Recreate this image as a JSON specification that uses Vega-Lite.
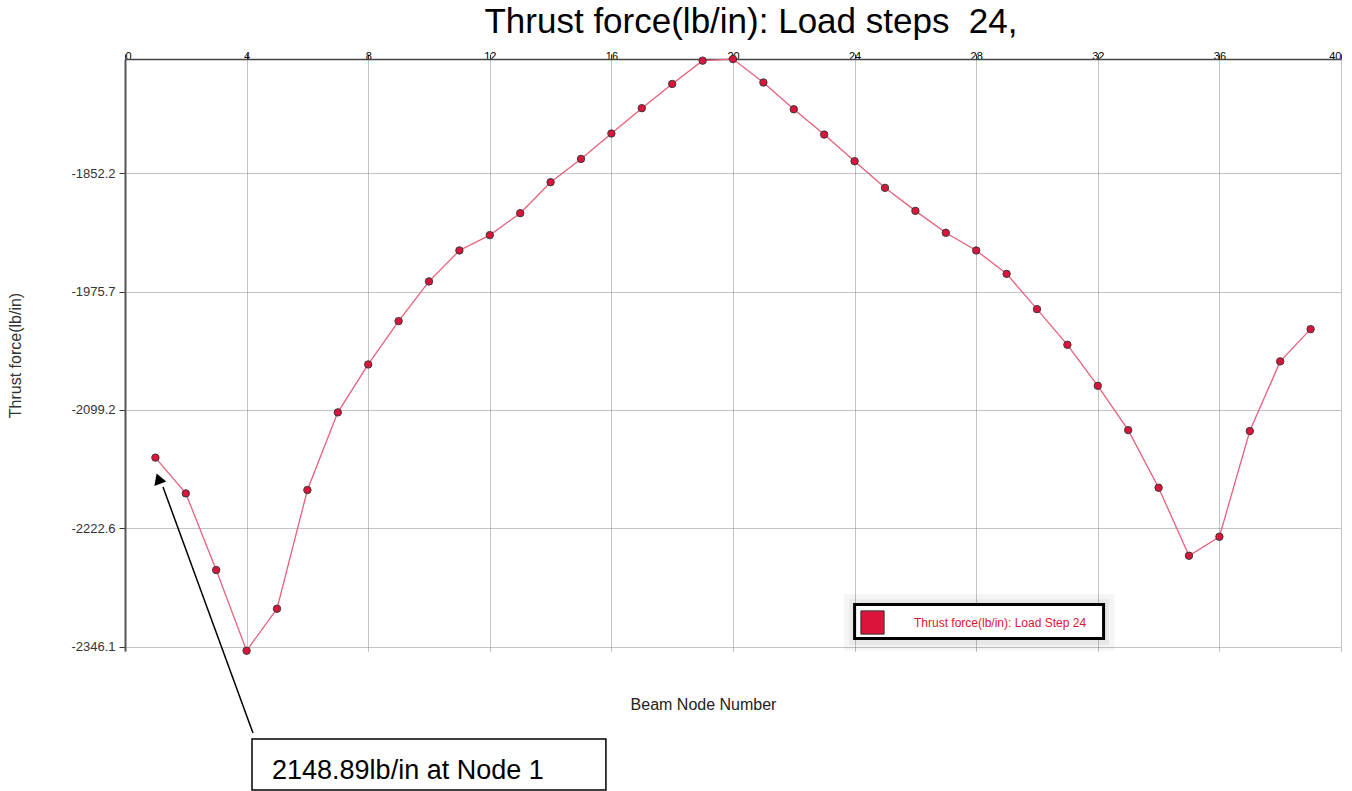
{
  "$schema": "https://vega.github.io/schema/vega-lite/v6.json",
  "width": 1216,
  "height": 592,
  "autosize": {"type": "none"},
  "padding": {"left": 125, "top": 59, "right": 11, "bottom": 140},
  "background": "#ffffff",
  "config": {
    "view": {"stroke": null},
    "font": "Liberation Sans",
    "axis": {"labelFont": "Liberation Sans", "titleFont": "Liberation Sans"}
  },
  "title": {
    "text": "Thrust force(lb/in): Load steps\u00a0 24,",
    "fontSize": 35,
    "font": "Liberation Sans",
    "fontWeight": "normal",
    "color": "#000000",
    "anchor": "middle",
    "dx": 18,
    "offset": 10
  },
  "datasets": {
    "thrust": [
      {"node": 1, "value": -2148.89},
      {"node": 2, "value": -2186.2},
      {"node": 3, "value": -2266.1},
      {"node": 4, "value": -2350.3},
      {"node": 5, "value": -2306.5},
      {"node": 6, "value": -2182.7},
      {"node": 7, "value": -2101.7},
      {"node": 8, "value": -2051.7},
      {"node": 9, "value": -2006.5},
      {"node": 10, "value": -1965.1},
      {"node": 11, "value": -1932.8},
      {"node": 12, "value": -1916.8},
      {"node": 13, "value": -1893.9},
      {"node": 14, "value": -1861.6},
      {"node": 15, "value": -1837.3},
      {"node": 16, "value": -1810.8},
      {"node": 17, "value": -1784.4},
      {"node": 18, "value": -1759.1},
      {"node": 19, "value": -1734.8},
      {"node": 20, "value": -1733.2},
      {"node": 21, "value": -1757.6},
      {"node": 22, "value": -1785.5},
      {"node": 23, "value": -1811.9},
      {"node": 24, "value": -1839.7},
      {"node": 25, "value": -1867.5},
      {"node": 26, "value": -1891.5},
      {"node": 27, "value": -1914.4},
      {"node": 28, "value": -1932.8},
      {"node": 29, "value": -1957.2},
      {"node": 30, "value": -1994.0},
      {"node": 31, "value": -2031.2},
      {"node": 32, "value": -2074.0},
      {"node": 33, "value": -2120.2},
      {"node": 34, "value": -2180.3},
      {"node": 35, "value": -2251.2},
      {"node": 36, "value": -2231.4},
      {"node": 37, "value": -2121.2},
      {"node": 38, "value": -2048.5},
      {"node": 39, "value": -2014.9}
    ],
    "one": [{"label": "2148.89lb/in at Node 1"}]
  },
  "resolve": {"axis": {"x": "independent", "y": "independent"}},
  "layer": [
    {
      "data": {"name": "thrust"},
      "mark": {"type": "line", "color": "#e8607a", "strokeWidth": 1.3},
      "encoding": {
        "x": {
          "field": "node", "type": "quantitative",
          "scale": {"domain": [0, 40], "nice": false, "zero": false},
          "axis": {
            "orient": "top", "title": null,
            "values": [0, 4, 8, 12, 16, 20, 24, 28, 32, 36, 40],
            "grid": true, "gridDash": [1, 1], "gridColor": "#888", "gridWidth": 1,
            "domainColor": "#444", "domainWidth": 1.5,
            "tickColor": "#333", "tickSize": 5,
            "labelPadding": -7, "labelFontSize": 11, "labelColor": "#000"
          }
        },
        "y": {
          "field": "value", "type": "quantitative",
          "scale": {"domain": [-2350.6, -1733.1], "nice": false, "zero": false},
          "axis": {
            "orient": "left",
            "values": [-2346.1, -2222.6, -2099.2, -1975.7, -1852.2],
            "labelExpr": "'-' + format(abs(datum.value), '.1f')",
            "grid": true, "gridDash": [1, 1], "gridColor": "#888", "gridWidth": 1,
            "domainColor": "#555", "domainWidth": 2,
            "tickColor": "#333", "tickSize": 6,
            "labelPadding": 4, "labelFontSize": 13, "labelColor": "#333",
            "title": "Thrust force(lb/in)",
            "titleFontSize": 16, "titleFontWeight": "normal", "titleColor": "#333",
            "titleX": -110, "titleY": 296, "titleAngle": -90,
            "titleAlign": "center", "titleBaseline": "middle"
          }
        }
      }
    },
    {
      "data": {"name": "thrust"},
      "mark": {"type": "point", "filled": true, "size": 55, "stroke": "#3a3a3a", "strokeWidth": 1, "opacity": 1},
      "encoding": {
        "x": {
          "field": "node", "type": "quantitative",
          "axis": {
            "orient": "bottom", "title": "Beam Node Number",
            "labels": false, "ticks": false, "domain": false, "grid": false,
            "titleFontSize": 16, "titleFontWeight": "normal", "titleColor": "#222",
            "titleX": 578, "titleY": 53, "titleAlign": "center", "titleBaseline": "middle"
          }
        },
        "y": {"field": "value", "type": "quantitative", "axis": null},
        "color": {
          "datum": "Thrust force(lb/in): Load Step 24",
          "scale": {"range": ["#dc143c"]},
          "legend": {
            "orient": "none", "legendX": 728, "legendY": 544, "title": null,
            "padding": 7,
            "symbolType": "square", "symbolSize": 540,
            "symbolStrokeColor": "#333", "symbolStrokeWidth": 1, "symbolOpacity": 1,
            "labelColor": "#dc143c", "labelFontSize": 12, "labelOffset": 29,
            "labelLimit": 400,
            "labelFont": "Liberation Sans"
          }
        }
      }
    },
    {
      "data": {"name": "one"},
      "mark": {"type": "rect", "fill": "#000000", "fillOpacity": 0.04},
      "encoding": {
        "x": {"datum": 23.65, "type": "quantitative", "axis": null},
        "x2": {"datum": 32.55},
        "y": {"datum": -2291.2, "type": "quantitative", "axis": null},
        "y2": {"datum": -2350.0}
      }
    },
    {
      "data": {"name": "one"},
      "mark": {"type": "rect", "fill": "#000000", "fillOpacity": 0.05},
      "encoding": {
        "x": {"datum": 23.83, "type": "quantitative", "axis": null},
        "x2": {"datum": 32.37},
        "y": {"datum": -2296.5, "type": "quantitative", "axis": null},
        "y2": {"datum": -2344.3}
      }
    },
    {
      "data": {"name": "one"},
      "mark": {"type": "rect", "fill": "#ffffff", "stroke": "#000000", "strokeWidth": 3},
      "encoding": {
        "x": {"datum": 24.0, "type": "quantitative", "axis": null},
        "x2": {"datum": 32.19},
        "y": {"datum": -2302.1, "type": "quantitative", "axis": null},
        "y2": {"datum": -2337.6}
      }
    },
    {
      "data": {"name": "one"},
      "mark": {"type": "rule", "color": "#000000", "strokeWidth": 1.5},
      "encoding": {
        "x": {"datum": 4.21, "type": "quantitative", "axis": null},
        "y": {"datum": -2436.1, "type": "quantitative", "axis": null},
        "x2": {"datum": 1.25},
        "y2": {"datum": -2179.5}
      }
    },
    {
      "data": {"name": "one"},
      "mark": {"type": "point", "shape": "triangle-up", "filled": true, "color": "#000000", "size": 160, "angle": 340, "opacity": 1},
      "encoding": {
        "x": {"datum": 1.1, "type": "quantitative", "axis": null},
        "y": {"datum": -2170.8, "type": "quantitative", "axis": null}
      }
    },
    {
      "data": {"name": "one"},
      "mark": {"type": "rect", "fill": "#ffffff", "stroke": "#000000", "strokeWidth": 1.5},
      "encoding": {
        "x": {"datum": 4.178, "type": "quantitative", "axis": null},
        "x2": {"datum": 15.82},
        "y": {"datum": -2442.4, "type": "quantitative", "axis": null},
        "y2": {"datum": -2495.6}
      }
    },
    {
      "data": {"name": "one"},
      "mark": {"type": "text", "fontSize": 27, "font": "Liberation Sans", "align": "left", "baseline": "alphabetic", "fill": "#000000"},
      "encoding": {
        "text": {"field": "label", "type": "nominal"},
        "x": {"datum": 4.836, "type": "quantitative", "axis": null},
        "y": {"datum": -2483.6, "type": "quantitative", "axis": null}
      }
    }
  ]
}
